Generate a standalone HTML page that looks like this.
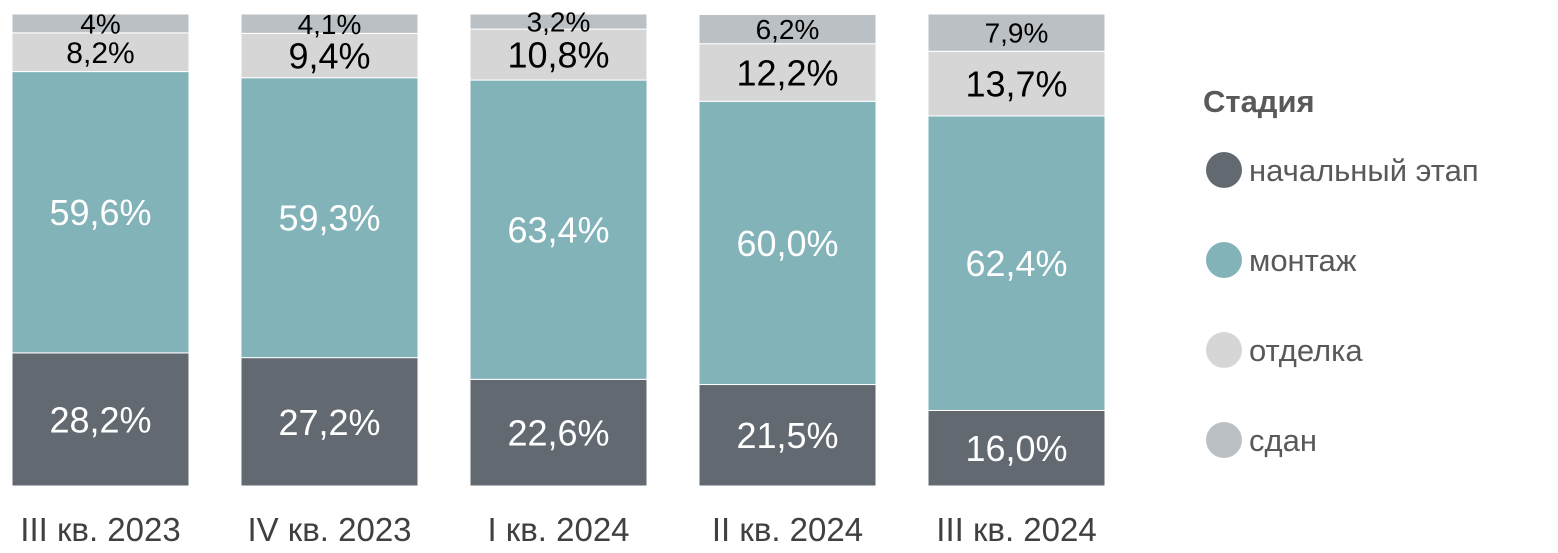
<!DOCTYPE html>
<html><head><meta charset="utf-8"><style>
html,body{margin:0;padding:0;background:#fff;}
svg{display:block;font-family:"Liberation Sans",sans-serif;}
</style></head><body>
<svg id="chart" width="1558" height="553" viewBox="0 0 1558 553">
<g id="bars"></g>
<g id="legend">
<text x="1203" y="112" font-size="31" font-weight="bold" fill="#595959">Стадия</text>
</g>
</svg>
<script>
const categories = ["III кв. 2023","IV кв. 2023","I кв. 2024","II кв. 2024","III кв. 2024"];
const initial = [28.2,27.2,22.6,21.5,16.0];
const montage = [59.6,59.3,63.4,60.0,62.4];
const finishing = [8.2,9.4,10.8,12.2,13.7];
const done = [4.0,4.1,3.2,6.2,7.9];
const initialLabels = ["28,2%","27,2%","22,6%","21,5%","16,0%"];
const montageLabels = ["59,6%","59,3%","63,4%","60,0%","62,4%"];
const finishingLabels = ["8,2%","9,4%","10,8%","12,2%","13,7%"];
const doneLabels = ["4%","4,1%","3,2%","6,2%","7,9%"];
const seriesNames = ["начальный этап","монтаж","отделка","сдан"];

const NS="http://www.w3.org/2000/svg";
const colors=["#636970","#82b3b8","#d6d6d6","#bbc0c4"];
const textColors=["#fff","#fff","#000","#000"];
const plotBottom=486, plotTop=14, plotH=plotBottom-plotTop;
const x0=12, step=229, bw=177;
const xPos=i=>x0+i*step;
const yScale=v=>v/100*plotH;
const series=[initial,montage,finishing,done];
const labels=[initialLabels,montageLabels,finishingLabels,doneLabels];
const segNames=["initial","montage","finishing","done"];
const g=document.getElementById('bars');
categories.forEach((c,i)=>{
  let y=plotBottom;
  series.forEach((s,k)=>{
    const h=yScale(s[i]);
    y-=h;
    const r=document.createElementNS(NS,'rect');
    r.setAttribute('x',xPos(i));r.setAttribute('y',y);r.setAttribute('width',bw);r.setAttribute('height',h);
    r.setAttribute('fill',colors[k]);r.setAttribute('stroke','#fff');r.setAttribute('stroke-width','1');
    
    
    g.appendChild(r);
    const t=document.createElementNS(NS,'text');
    let fs=k<2?36:(k===2?(h>42?36:30):28);
    t.setAttribute('x',xPos(i)+bw/2);t.setAttribute('y',y+h/2+fs*0.36);
    t.setAttribute('text-anchor','middle');t.setAttribute('font-size',fs);t.setAttribute('fill',textColors[k]);
    t.textContent=labels[k][i];
    
    
    g.appendChild(t);
  });
  const xl=document.createElementNS(NS,'text');
  xl.setAttribute('x',xPos(i)+bw/2);xl.setAttribute('y',541);
  xl.setAttribute('text-anchor','middle');xl.setAttribute('font-size',33);xl.setAttribute('fill','#404040');
  xl.textContent=c;
  
  
  g.appendChild(xl);
});
const lg=document.getElementById('legend');
seriesNames.forEach((n,k)=>{
  const cy=170+k*90;
  const ci=document.createElementNS(NS,'circle');
  ci.setAttribute('cx',1224);ci.setAttribute('cy',cy);ci.setAttribute('r',18);ci.setAttribute('fill',colors[k]);
  
  
  lg.appendChild(ci);
  const t=document.createElementNS(NS,'text');
  t.setAttribute('x',1249);t.setAttribute('y',cy+11);t.setAttribute('font-size',31);t.setAttribute('fill','#595959');
  t.textContent=n;
  
  
  lg.appendChild(t);
});
</script>
</body></html>
